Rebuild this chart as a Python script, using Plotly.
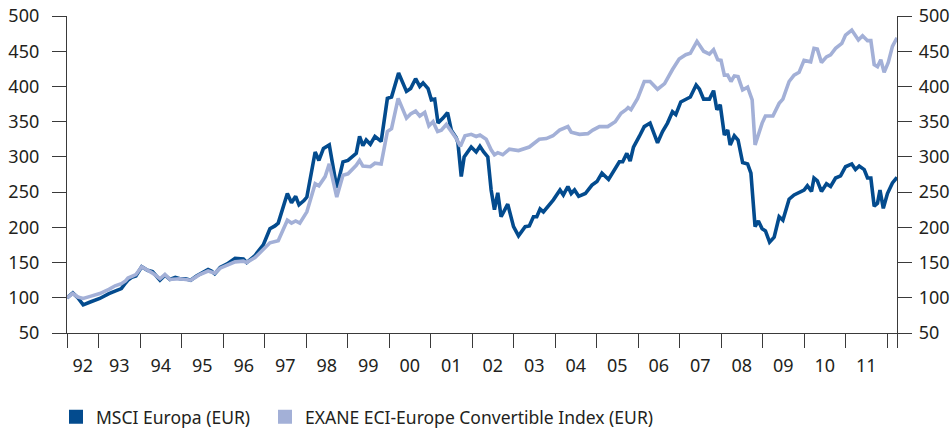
import plotly.graph_objects as go

# ---------------- data ----------------
msci_x = [1992.24, 1992.38, 1992.50, 1992.63, 1992.80, 1993.03, 1993.25, 1993.40, 1993.55, 1993.65,
          1993.71, 1993.80, 1993.90, 1994.04, 1994.18, 1994.30, 1994.48, 1994.60, 1994.72, 1994.85,
          1994.96, 1995.10, 1995.22, 1995.36, 1995.44, 1995.64, 1995.72, 1995.80, 1995.93, 1996.10,
          1996.29, 1996.40, 1996.49, 1996.57, 1996.77, 1996.97, 1997.13, 1997.25, 1997.33, 1997.55,
          1997.65, 1997.75, 1997.83, 1997.95, 1998.02, 1998.22, 1998.31, 1998.42, 1998.56, 1998.74,
          1998.89, 1999.01, 1999.21, 1999.29, 1999.37, 1999.45, 1999.55, 1999.66, 1999.81, 1999.96,
          2000.06, 2000.23, 2000.42, 2000.52, 2000.64, 2000.74, 2000.82, 2000.94, 2001.02, 2001.10,
          2001.18, 2001.30, 2001.41, 2001.50, 2001.62, 2001.66, 2001.74, 2001.81, 2001.98, 2002.10,
          2002.19, 2002.28, 2002.38, 2002.46, 2002.54, 2002.62, 2002.70, 2002.86, 2003.00, 2003.12,
          2003.28, 2003.38, 2003.48, 2003.56, 2003.64, 2003.72, 2003.96, 2004.12, 2004.20, 2004.31,
          2004.39, 2004.47, 2004.57, 2004.73, 2004.89, 2005.01, 2005.13, 2005.29, 2005.45, 2005.55,
          2005.63, 2005.73, 2005.81, 2005.89, 2006.03, 2006.15, 2006.29, 2006.47, 2006.59, 2006.71,
          2006.83, 2006.91, 2007.03, 2007.15, 2007.26, 2007.40, 2007.48, 2007.58, 2007.72, 2007.82,
          2007.90, 2007.98, 2008.08, 2008.16, 2008.22, 2008.32, 2008.41, 2008.52, 2008.64, 2008.72,
          2008.82, 2008.90, 2008.99, 2009.07, 2009.17, 2009.28, 2009.40, 2009.49, 2009.64, 2009.76,
          2009.88, 2010.00, 2010.08, 2010.18, 2010.24, 2010.32, 2010.42, 2010.54, 2010.64, 2010.76,
          2010.88, 2011.00, 2011.15, 2011.24, 2011.33, 2011.45, 2011.53, 2011.61, 2011.69, 2011.77,
          2011.83, 2011.91, 2012.01, 2012.13, 2012.24]
msci_y = [100, 107, 100, 90, 94, 99, 106, 110, 113, 121,
          125, 129, 131, 144, 139, 137, 125, 132, 126, 129,
          127, 127, 125, 131, 134, 140, 138, 134, 143, 148,
          156, 155, 155, 150, 160, 175, 198, 202, 206, 248,
          235, 244, 232, 238, 243, 307, 295, 312, 317, 256,
          293, 295, 305, 329, 316, 324, 318, 329, 322, 383,
          385, 419, 393, 397, 411, 400, 405, 397, 381, 382,
          348, 355, 363, 338, 327, 320, 272, 300, 314, 307,
          315, 307, 300, 253, 225, 249, 215, 233, 201, 188,
          201, 202, 215, 215, 226, 222, 239, 253, 246, 258,
          248, 253, 244, 248, 260, 265, 277, 268, 282, 293,
          293, 305, 294, 314, 329, 343, 348, 320, 336, 348,
          364, 360, 378, 382, 385, 402, 396, 382, 382, 394,
          367, 374, 331, 338, 317, 330, 324, 292, 290, 277,
          201, 209, 198, 195, 179, 186, 215, 210, 240, 246,
          249, 253, 259, 251, 270, 266, 251, 262, 258, 270,
          273, 286, 290, 282, 287, 282, 270, 270, 230, 234,
          253, 227, 248, 263, 271]

exane_x = [1992.24, 1992.38, 1992.50, 1992.63, 1992.80, 1993.03, 1993.25, 1993.40, 1993.55, 1993.65,
           1993.71, 1993.80, 1993.90, 1994.04, 1994.18, 1994.30, 1994.48, 1994.60, 1994.72, 1994.85,
           1994.96, 1995.10, 1995.22, 1995.36, 1995.44, 1995.64, 1995.80, 1995.93, 1996.10, 1996.29,
           1996.49, 1996.57, 1996.77, 1996.97, 1997.13, 1997.33, 1997.55, 1997.65, 1997.75, 1997.85,
           1998.02, 1998.22, 1998.31, 1998.46, 1998.56, 1998.74, 1998.89, 1999.01, 1999.21, 1999.29,
           1999.37, 1999.55, 1999.66, 1999.81, 1999.96, 2000.06, 2000.22, 2000.42, 2000.52, 2000.64,
           2000.74, 2000.86, 2000.96, 2001.06, 2001.17, 2001.26, 2001.38, 2001.50, 2001.62, 2001.72,
           2001.83, 2001.98, 2002.10, 2002.19, 2002.34, 2002.46, 2002.54, 2002.62, 2002.74, 2002.90,
           2003.12, 2003.38, 2003.62, 2003.79, 2003.95, 2004.11, 2004.31, 2004.39, 2004.59, 2004.79,
           2004.91, 2005.07, 2005.27, 2005.45, 2005.59, 2005.71, 2005.76, 2005.83, 2005.99, 2006.15,
           2006.29, 2006.47, 2006.64, 2006.83, 2006.99, 2007.15, 2007.26, 2007.42, 2007.58, 2007.72,
           2007.82, 2007.92, 2008.00, 2008.08, 2008.16, 2008.24, 2008.32, 2008.41, 2008.52, 2008.64,
           2008.72, 2008.75, 2008.82, 2008.92, 2008.99, 2009.07, 2009.25, 2009.40, 2009.49, 2009.64,
           2009.76, 2009.88, 2010.00, 2010.16, 2010.24, 2010.32, 2010.42, 2010.54, 2010.64, 2010.76,
           2010.91, 2011.00, 2011.15, 2011.31, 2011.41, 2011.53, 2011.61, 2011.69, 2011.77, 2011.85,
           2011.93, 2012.03, 2012.13, 2012.24]
exane_y = [100, 106, 101, 99, 102, 106, 112, 117, 120, 124,
           128, 131, 133, 144, 139, 135, 127, 133, 126, 127,
           127, 126, 125, 130, 133, 138, 135, 142, 146, 151,
           152, 150, 157, 168, 178, 181, 210, 206, 209, 206,
           222, 262, 259, 272, 290, 243, 274, 276, 288, 295,
           287, 286, 291, 290, 336, 340, 383, 355, 361, 365,
           358, 363, 344, 350, 336, 338, 346, 336, 326, 315,
           330, 332, 329, 331, 325, 310, 303, 306, 303, 311,
           309, 314, 325, 326, 330, 338, 343, 335, 332, 333,
           338, 343, 343, 350, 362, 367, 370, 367, 383, 407,
           407, 396, 404, 424, 439, 445, 447, 464, 450, 446,
           452, 438, 437, 416, 416, 407, 415, 414, 395, 399,
           388, 381, 317, 338, 348, 358, 358, 376, 382, 407,
           416, 420, 437, 435, 454, 453, 434, 442, 445, 454,
           461, 473, 480, 466, 472, 465, 465, 431, 428, 438,
           420, 434, 457, 469]

series_names = ["MSCI Europa (EUR)", "EXANE ECI-Europe Convertible Index (EUR)"]
year_labels = ["92", "93", "94", "95", "96", "97", "98", "99", "00", "01",
               "02", "03", "04", "05", "06", "07", "08", "09", "10", "11"]
y_ticks = [50, 100, 150, 200, 250, 300, 350, 400, 450, 500]

# ---------------- styling ----------------
DARK = "#034b8e"
LIGHT = "#a3b0d7"
AXIS = "#3a3a3a"
TXT = "#231f20"
FONT = "Noto Sans"

x_start, x_end = 1992.24, 2012.24
year_starts = list(range(1993, 2013))
label_pos = [(x_start + 1993) / 2] + [y + 0.5 for y in range(1993, 2012)]
boundary_ticks = [x_start] + year_starts + [x_end]

fig = go.Figure()
fig.add_trace(go.Scatter(x=msci_x, y=msci_y, mode="lines", name=series_names[0],
                         line=dict(color=DARK, width=3.6), showlegend=False, yaxis="y"))
fig.add_trace(go.Scatter(x=exane_x, y=exane_y, mode="lines", name=series_names[1],
                         line=dict(color=LIGHT, width=3.6), showlegend=False, yaxis="y2"))
# legend entries (square swatches), one legend box per entry
for nm, col, lg in zip(series_names, [DARK, LIGHT], ["legend", "legend2"]):
    fig.add_trace(go.Scatter(x=[None], y=[None], mode="markers", name=nm, legend=lg,
                             marker=dict(symbol="square", size=14, color=col), showlegend=True))

common_y = dict(range=[50, 500], tickvals=y_ticks, ticks="outside", ticklen=14, tickwidth=1.3,
                tickcolor=AXIS, showline=True, linecolor=AXIS, linewidth=1.3, showgrid=False,
                zeroline=False, tickfont=dict(family=FONT, size=18, color=TXT), fixedrange=True,
                automargin=False)

legend_common = dict(orientation="h", xanchor="left", yanchor="middle", xref="container",
                     yref="container", y=0.035, font=dict(family=FONT, size=17.5, color=TXT),
                     itemsizing="trace", bgcolor="rgba(0,0,0,0)", borderwidth=0)

fig.update_layout(
    width=951, height=432,
    margin=dict(l=67, r=54, t=16, b=99),
    paper_bgcolor="white", plot_bgcolor="white",
    font=dict(family=FONT, color=TXT),
    xaxis=dict(range=[x_start, x_end], tickvals=label_pos, ticktext=year_labels, ticks="",
               showline=True, linecolor=AXIS, linewidth=1.3, showgrid=False, zeroline=False,
               tickfont=dict(family=FONT, size=18, color=TXT), ticklabelstandoff=16,
               automargin=False, fixedrange=True,
               minor=dict(tickvals=boundary_ticks, ticks="outside", ticklen=14, tickwidth=1.3,
                          tickcolor=AXIS, showgrid=False)),
    yaxis=dict(side="left", ticklabelstandoff=9, **common_y),
    yaxis2=dict(side="right", overlaying="y", ticklabelstandoff=3, **common_y),
    legend=dict(x=56 / 951, **legend_common),
    legend2=dict(x=265 / 951, **legend_common),
    showlegend=True,
)

fig.write_html("out.html",
               config={"displayModeBar": False},
               post_script="document.body.style.margin='0';document.body.style.overflow='hidden';")
